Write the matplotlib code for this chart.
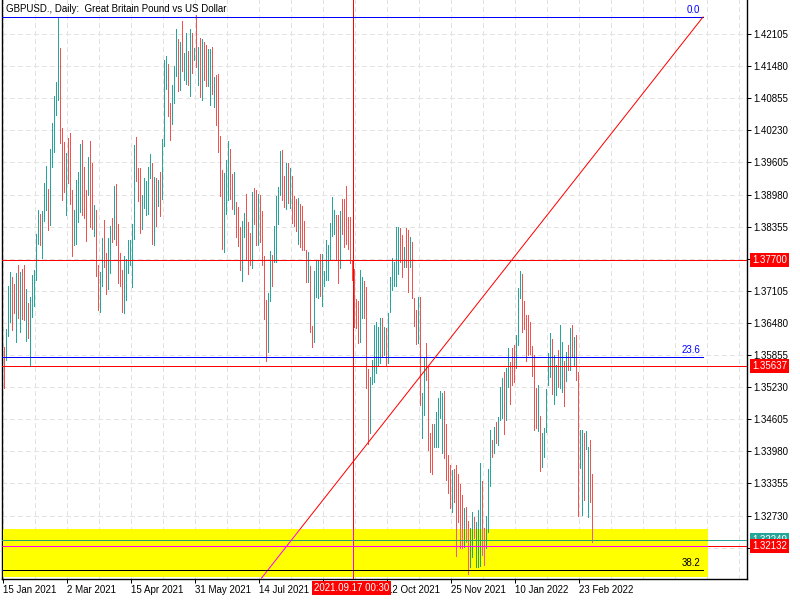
import matplotlib
matplotlib.use("Agg")
import matplotlib.pyplot as plt
from matplotlib.collections import LineCollection
from matplotlib.patches import Rectangle

plt.rcParams['font.family'] = ['Liberation Sans', 'DejaVu Sans']
plt.rcParams['lines.scale_dashes'] = False
plt.rcParams['lines.antialiased'] = False

title = "GBPUSD., Daily:  Great Britain Pound vs US Dollar"

date_labels = ["15 Jan 2021", "2 Mar 2021", "15 Apr 2021", "31 May 2021", "14 Jul 2021",
               "27 Aug 2021", "12 Oct 2021", "25 Nov 2021", "10 Jan 2022", "23 Feb 2022"]
date_label_bars = [-0.5, 31.5, 63.5, 95.5, 127.5, 159.5, 191.5, 223.5, 255.5, 287.5]
hidden_date_labels = ["27 Aug 2021"]

price_ticks = [1.42105, 1.41480, 1.40855, 1.40230, 1.39605, 1.38980, 1.38355, 1.37730,
               1.37105, 1.36480, 1.35855, 1.35230, 1.34605, 1.33980, 1.33355, 1.32730, 1.32105]
hidden_price_ticks = [1.37730, 1.32105]

highs = [
    1.3602, 1.3637, 1.3720, 1.3748, 1.3738, 1.3724, 1.3746, 1.3760, 1.3748, 1.3753,
    1.3761, 1.3714, 1.3686, 1.3698, 1.3742, 1.3751, 1.3822, 1.3868, 1.3861, 1.3865,
    1.3921, 1.3954, 1.3909, 1.3987, 1.4038, 1.4089, 1.4118, 1.4242, 1.4184, 1.4027,
    1.4001, 1.3979, 1.4008, 1.4018, 1.3907, 1.3867, 1.3927, 1.3941, 1.3997, 1.4005,
    1.3952, 1.3907, 1.3971, 1.4002, 1.3960, 1.3878, 1.3867, 1.3760, 1.3748, 1.3814,
    1.3849, 1.3785, 1.3814, 1.3837, 1.3853, 1.3915, 1.3919, 1.3841, 1.3785, 1.3751,
    1.3779, 1.3773, 1.3809, 1.3809, 1.3841, 1.3995, 1.4010, 1.3950, 1.3950, 1.3897,
    1.3930, 1.3925, 1.3952, 1.3977, 1.3960, 1.3932, 1.3931, 1.3927, 1.3942, 1.4006,
    1.4160, 1.4168, 1.4153, 1.4077, 1.4111, 1.4148, 1.4220, 1.4201, 1.4194, 1.4235,
    1.4173, 1.4212, 1.4177, 1.4220, 1.4213, 1.4184, 1.4248, 1.4186, 1.4203, 1.4201,
    1.4194, 1.4190, 1.4181, 1.4181, 1.4186, 1.4127, 1.4131, 1.4132, 1.4011, 1.3946,
    1.3939, 1.3966, 1.4003, 1.3987, 1.3937, 1.3941, 1.3883, 1.3873, 1.3835, 1.3847,
    1.3862, 1.3899, 1.3845, 1.3823, 1.3902, 1.3911, 1.3907, 1.3899, 1.3897, 1.3865,
    1.3778, 1.3693, 1.3706, 1.3788, 1.3780, 1.3836, 1.3895, 1.3913, 1.3983, 1.3985,
    1.3935, 1.3960, 1.3959, 1.3950, 1.3935, 1.3895, 1.3889, 1.3891, 1.3879, 1.3876,
    1.3846, 1.3790, 1.3787, 1.3759, 1.3642, 1.3750, 1.3769, 1.3769, 1.3783, 1.3782,
    1.3749, 1.3809, 1.3800, 1.3842, 1.3894, 1.3867, 1.3859, 1.3858, 1.3865, 1.3889,
    1.3889, 1.3915, 1.3855, 1.3854, 1.3771, 1.3752, 1.3694, 1.3691, 1.3751, 1.3738,
    1.3730, 1.3717, 1.3558, 1.3542, 1.3576, 1.3643, 1.3650, 1.3641, 1.3658, 1.3657,
    1.3641, 1.3639, 1.3667, 1.3737, 1.3774, 1.3767, 1.3834, 1.3834, 1.3832, 1.3819,
    1.3795, 1.3832, 1.3829, 1.3815, 1.3806, 1.3696, 1.3673, 1.3699, 1.3698, 1.3511,
    1.3581, 1.3608, 1.3563, 1.3433, 1.3452, 1.3452, 1.3475, 1.3501, 1.3515, 1.3511,
    1.3516, 1.3452, 1.3391, 1.3371, 1.3362, 1.3363, 1.3371, 1.3354, 1.3334, 1.3313,
    1.3287, 1.3290, 1.3263, 1.3248, 1.3279, 1.3271, 1.3260, 1.3283, 1.3375, 1.3340,
    1.3248, 1.3272, 1.3364, 1.3440, 1.3420, 1.3446, 1.3456, 1.3464, 1.3523, 1.3540,
    1.3553, 1.3560, 1.3599, 1.3571, 1.3600, 1.3605, 1.3624, 1.3715, 1.3750, 1.3743,
    1.3691, 1.3663, 1.3663, 1.3650, 1.3604, 1.3586, 1.3521, 1.3527, 1.3467, 1.3434,
    1.3443, 1.3519, 1.3589, 1.3628, 1.3617, 1.3586, 1.3566, 1.3595, 1.3644, 1.3610,
    1.3573, 1.3592, 1.3605, 1.3639, 1.3644, 1.3621, 1.3624, 1.3553, 1.3440, 1.3440,
    1.3433, 1.3438, 1.3407, 1.3420, 1.3353,
]

lows = [
    1.3521, 1.3575, 1.3623, 1.3649, 1.3635, 1.3667, 1.3610, 1.3657, 1.3630, 1.3656,
    1.3654, 1.3612, 1.3619, 1.3565, 1.3660, 1.3680, 1.3732, 1.3801, 1.3800, 1.3775,
    1.3847, 1.3868, 1.3829, 1.3839, 1.3952, 1.3980, 1.4053, 1.4082, 1.3999, 1.3887,
    1.3903, 1.3858, 1.3921, 1.3880, 1.3779, 1.3800, 1.3802, 1.3845, 1.3863, 1.3858,
    1.3853, 1.3807, 1.3898, 1.3835, 1.3830, 1.3817, 1.3740, 1.3673, 1.3670, 1.3720,
    1.3756, 1.3705, 1.3714, 1.3746, 1.3805, 1.3812, 1.3800, 1.3725, 1.3719, 1.3670,
    1.3668, 1.3693, 1.3746, 1.3761, 1.3717, 1.3811, 1.3925, 1.3886, 1.3824, 1.3831,
    1.3871, 1.3859, 1.3861, 1.3931, 1.3801, 1.3800, 1.3837, 1.3876, 1.3856, 1.3889,
    1.3993, 1.4103, 1.4050, 1.4005, 1.4036, 1.4076, 1.4129, 1.4100, 1.4101, 1.4139,
    1.4120, 1.4114, 1.4111, 1.4090, 1.4134, 1.4160, 1.4147, 1.4111, 1.4087, 1.4082,
    1.4121, 1.4110, 1.4110, 1.4072, 1.4094, 1.4069, 1.4033, 1.3981, 1.3896, 1.3791,
    1.3786, 1.3860, 1.3887, 1.3890, 1.3870, 1.3860, 1.3815, 1.3798, 1.3751, 1.3730,
    1.3815, 1.3772, 1.3743, 1.3761, 1.3754, 1.3840, 1.3800, 1.3800, 1.3805, 1.3761,
    1.3655, 1.3573, 1.3592, 1.3691, 1.3720, 1.3767, 1.3767, 1.3841, 1.3897, 1.3887,
    1.3874, 1.3870, 1.3881, 1.3871, 1.3843, 1.3837, 1.3827, 1.3802, 1.3795, 1.3790,
    1.3790, 1.3728, 1.3728, 1.3631, 1.3602, 1.3610, 1.3698, 1.3696, 1.3700, 1.3680,
    1.3719, 1.3732, 1.3732, 1.3771, 1.3817, 1.3822, 1.3771, 1.3726, 1.3754, 1.3822,
    1.3795, 1.3802, 1.3792, 1.3764, 1.3732, 1.3641, 1.3639, 1.3608, 1.3611, 1.3657,
    1.3657, 1.3521, 1.3412, 1.3434, 1.3530, 1.3532, 1.3550, 1.3566, 1.3569, 1.3584,
    1.3585, 1.3567, 1.3569, 1.3670, 1.3712, 1.3719, 1.3719, 1.3743, 1.3767, 1.3737,
    1.3757, 1.3757, 1.3709, 1.3757, 1.3696, 1.3642, 1.3606, 1.3608, 1.3488, 1.3423,
    1.3469, 1.3537, 1.3400, 1.3358, 1.3353, 1.3407, 1.3406, 1.3407, 1.3462, 1.3394,
    1.3385, 1.3343, 1.3316, 1.3287, 1.3279, 1.3300, 1.3195, 1.3261, 1.3209, 1.3209,
    1.3212, 1.3222, 1.3160, 1.3173, 1.3193, 1.3229, 1.3173, 1.3172, 1.3175, 1.3196,
    1.3177, 1.3209, 1.3240, 1.3330, 1.3386, 1.3394, 1.3415, 1.3410, 1.3458, 1.3462,
    1.3431, 1.3459, 1.3524, 1.3491, 1.3527, 1.3532, 1.3560, 1.3605, 1.3697, 1.3631,
    1.3637, 1.3573, 1.3586, 1.3587, 1.3545, 1.3440, 1.3443, 1.3438, 1.3360, 1.3367,
    1.3386, 1.3436, 1.3528, 1.3543, 1.3509, 1.3491, 1.3508, 1.3524, 1.3522, 1.3514,
    1.3486, 1.3534, 1.3556, 1.3556, 1.3582, 1.3564, 1.3537, 1.3273, 1.3366, 1.3274,
    1.3303, 1.3403, 1.3271, 1.3300, 1.3221,
]

# 1 = bullish bar (teal), 0 = bearish bar (red)
bar_up = [
    0, 1, 1, 1, 0, 0, 1, 0, 1, 0,
    0, 1, 0, 1, 1, 1, 1, 1, 0, 1,
    1, 1, 0, 1, 1, 1, 1, 1, 0, 0,
    0, 1, 0, 0, 0, 1, 1, 1, 1, 0,
    0, 0, 1, 0, 0, 1, 0, 0, 1, 1,
    0, 0, 1, 1, 0, 1, 0, 0, 0, 0,
    1, 1, 1, 1, 1, 1, 0, 0, 0, 1,
    1, 1, 1, 1, 0, 1, 0, 1, 0, 1,
    1, 1, 0, 0, 1, 1, 1, 0, 1, 0,
    1, 1, 0, 1, 0, 1, 0, 1, 0, 1,
    0, 0, 1, 1, 0, 1, 0, 0, 0, 0,
    1, 1, 1, 0, 0, 1, 0, 0, 0, 1,
    1, 0, 0, 0, 1, 0, 0, 1, 0, 0,
    0, 0, 1, 1, 0, 1, 1, 1, 1, 0,
    0, 1, 0, 1, 0, 0, 0, 1, 0, 0,
    0, 0, 1, 0, 0, 1, 1, 1, 0, 1,
    1, 1, 1, 1, 1, 1, 0, 0, 1, 0,
    0, 0, 0, 0, 0, 0, 0, 0, 1, 1,
    0, 0, 0, 1, 1, 1, 1, 1, 1, 0,
    1, 0, 1, 1, 1, 1, 1, 1, 0, 0,
    1, 0, 0, 1, 0, 0, 0, 1, 0, 1,
    1, 0, 0, 0, 0, 1, 1, 1, 1, 1,
    0, 0, 0, 0, 1, 0, 0, 0, 0, 0,
    1, 0, 0, 1, 1, 0, 1, 1, 1, 0,
    0, 1, 1, 1, 0, 1, 0, 1, 1, 1,
    0, 1, 1, 0, 0, 0, 1, 1, 1, 0,
    0, 0, 0, 0, 0, 0, 0, 1, 0, 1,
    1, 1, 1, 1, 0, 1, 1, 0, 1, 1,
    0, 1, 0, 1, 0, 1, 0, 0, 1, 1,
    0, 1, 1, 0, 0,
]

# horizontal levels
level_lines = [1.37700, 1.35637]
bid_price = 1.32249
cross_price = 1.32132
cross_bar = 174.5
cross_label = "2021.09.17 00:30"

fib_names = ["0.0", "23.6", "38.2"]
fib_prices = [1.42436, 1.35816, 1.31669]
fib_end_bar = 349.5
fib_trend_bars = [128.8, 349.5]
fib_trend_prices = [1.31513, 1.42436]

zone_bars = [-0.5, 352.0]
zone_prices = [1.31532, 1.32467]

# colours
UP = '#26a69a'
DN = '#ef5350'
UP_Z = '#26a665'
DN_Z = '#ef53af'
GRID = '#e3e3e3'
RED = '#ff0000'
MAG = '#ff00ff'
BLUE = '#0000ff'

W, H = 800, 600
fig = plt.figure(figsize=(W / 100, H / 100), dpi=100, facecolor='white')
ax = fig.add_axes([2 / W, 21 / H, 745 / W, 579 / H])
ax.set_facecolor('white')
ax.set_xlim(-1.0, 371.5)
ax.set_ylim(1.31494, 1.42767)

px = 0.72  # one pixel in points
FS = 7.0

# grid
for p in price_ticks:
    ax.axhline(p, color=GRID, lw=px, dashes=(2.9, 2.2), zorder=0.5)
for k in range(0, 24):
    ax.axvline(16 * k - 0.5, color=GRID, lw=px, dashes=(2.9, 2.2), zorder=0.5)

# bars
segs = [[(i, lo), (i, hi)] for i, (hi, lo) in enumerate(zip(highs, lows))]
cols = [UP if u else DN for u in bar_up]
lc = LineCollection(segs, colors=cols, linewidths=px, antialiaseds=False, zorder=2)
ax.add_collection(lc)

# horizontal level lines and crosshair
for p in level_lines:
    ax.axhline(p, color=RED, lw=px, zorder=3)
ax.axhline(bid_price, color=UP, lw=px, zorder=3)
ax.axhline(cross_price, color=RED, lw=px, zorder=3)
ax.axvline(cross_bar, color=RED, lw=px, zorder=3)

# fibonacci
for name, p in zip(fib_names, fib_prices):
    ax.plot([-1.0, fib_end_bar], [p, p], color=BLUE, lw=px, zorder=3, solid_capstyle='butt')
    ax.text(fib_end_bar - 1.5, p + 0.0004, name, color=('black' if name == "38.2" else BLUE),
            fontsize=FS, ha='right', va='bottom', zorder=6)
ax.plot(fib_trend_bars, fib_trend_prices, color=RED, lw=px, zorder=3, antialiased=True)

# yellow zone (objects inside it take inverted-blue colouring)
zone = Rectangle((zone_bars[0], zone_prices[0]), zone_bars[1] - zone_bars[0],
                 zone_prices[1] - zone_prices[0], facecolor='#ffff00', edgecolor='none', zorder=4)
ax.add_patch(zone)
clip = Rectangle((zone_bars[0], zone_prices[0]), zone_bars[1] - zone_bars[0],
                 zone_prices[1] - zone_prices[0], transform=ax.transData, facecolor='none')
zcols = [UP_Z if u else DN_Z for u in bar_up]
lcz = LineCollection(segs, colors=zcols, linewidths=px, antialiaseds=False, zorder=5)
ax.add_collection(lcz)
lcz.set_clip_path(clip)
over = []
over.append(ax.axhline(bid_price, color=UP_Z, lw=px, zorder=5))
over.append(ax.axhline(cross_price, color=MAG, lw=px, zorder=5))
over.append(ax.axvline(cross_bar, color=MAG, lw=px, zorder=5))
over += ax.plot(fib_trend_bars, fib_trend_prices, color=MAG, lw=px, zorder=5, antialiased=True)
over += ax.plot([-1.0, fib_end_bar], [fib_prices[2], fib_prices[2]], color='black', lw=px, zorder=5)
for a in over:
    a.set_clip_path(clip)

# title
ax.text(4 / 745, 1 - 9 / 579, title, transform=ax.transAxes, fontsize=FS,
        ha='left', va='center', color='black', zorder=7)

# axes styling
ax.spines['top'].set_visible(False)
for s in ['left', 'right', 'bottom']:
    ax.spines[s].set_linewidth(1.0)
    ax.spines[s].set_color('black')

ax.yaxis.tick_right()
ax.set_yticks(price_ticks)
ax.set_yticklabels(['' if p in hidden_price_ticks else f"{p:.5f}" for p in price_ticks])
ax.tick_params(axis='y', direction='out', length=3, width=px, pad=1.5, labelsize=FS, colors='black')
ax.set_xticks(date_label_bars)
ax.set_xticklabels(['' if d in hidden_date_labels else d for d in date_labels], ha='left')
ax.tick_params(axis='x', direction='out', length=3, width=px, pad=1.5, labelsize=FS)

# price label boxes on the right axis
def price_box(p, text, fc, z):
    ax.annotate(text, xy=(1.0, p), xycoords=('axes fraction', 'data'), xytext=(3.8, 0),
                textcoords='offset points', ha='left', va='center', color='white',
                fontsize=FS, annotation_clip=False, zorder=z,
                bbox=dict(boxstyle='square,pad=0.22', fc=fc, ec='none'))

price_box(level_lines[0], "1.37700", RED, 8)
price_box(level_lines[1], "1.35637", RED, 8)
price_box(bid_price, "1.32249", UP, 8)
price_box(cross_price, "1.32132", RED, 9)

# crosshair date label
ax.annotate(cross_label, xy=(cross_bar, 0), xycoords=('data', 'axes fraction'), xytext=(-1, -6.3),
            textcoords='offset points', ha='center', va='center', color='white',
            fontsize=FS, annotation_clip=False, zorder=9,
            bbox=dict(boxstyle='square,pad=0.2', fc=RED, ec='none'))

fig.savefig('out.png', dpi=100, facecolor='white')
